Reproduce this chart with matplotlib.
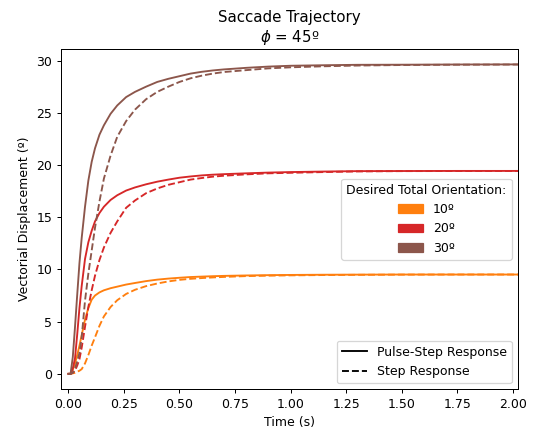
import matplotlib.pyplot as plt
from matplotlib.patches import Patch
from matplotlib.lines import Line2D

# time samples (s)
t = [0.0, 0.01, 0.02, 0.03, 0.04, 0.05, 0.06, 0.075, 0.09, 0.105, 0.12, 0.14, 0.16, 0.19, 0.22,
     0.26, 0.3, 0.35, 0.4, 0.45, 0.5, 0.55, 0.6, 0.65, 0.7, 0.8, 0.9, 1.0, 1.15, 1.3, 1.5, 1.75, 2.05]

# Pulse-step responses
ps_10 = [0, 0, 0.4, 1.0, 1.8, 2.7, 3.7, 5.2, 6.3, 7.1, 7.5, 7.8, 8.0, 8.2, 8.35,
         8.55, 8.7, 8.88, 9.02, 9.12, 9.2, 9.27, 9.31, 9.35, 9.38, 9.42, 9.45, 9.47, 9.49, 9.5, 9.51, 9.51, 9.51]
ps_20 = [0, 0, 0.5, 1.5, 3.8, 6.3, 8.4, 11.0, 12.6, 13.7, 14.6, 15.4, 16.0, 16.65, 17.1,
         17.55, 17.85, 18.15, 18.4, 18.6, 18.78, 18.9, 19.0, 19.07, 19.12, 19.2, 19.27, 19.32, 19.37, 19.41,
         19.42, 19.43, 19.43]
ps_30 = [0, 0, 1.6, 4.5, 7.6, 10.6, 13.0, 16.0, 18.5, 20.3, 21.6, 22.9, 23.8, 24.9, 25.7,
         26.5, 27.0, 27.5, 27.95, 28.25, 28.5, 28.75, 28.92, 29.05, 29.15, 29.3, 29.42, 29.5, 29.55, 29.59,
         29.6, 29.62, 29.63]

# Step responses
st_10 = [0, 0, 0.05, 0.1, 0.2, 0.3, 0.45, 1.0, 1.8, 2.7, 3.5, 4.6, 5.5, 6.4, 7.05,
         7.65, 8.05, 8.4, 8.65, 8.85, 9.0, 9.1, 9.17, 9.23, 9.28, 9.36, 9.4, 9.43, 9.46, 9.48, 9.5, 9.51, 9.51]
st_20 = [0, 0, 0.1, 0.3, 0.8, 1.4, 2.5, 4.5, 6.4, 8.0, 9.4, 10.9, 12.1, 13.5, 14.6,
         15.9, 16.6, 17.3, 17.75, 18.1, 18.35, 18.6, 18.75, 18.88, 18.97, 19.1, 19.2, 19.25, 19.32, 19.38,
         19.41, 19.42, 19.43]
st_30 = [0, 0, 0.1, 0.5, 1.2, 2.0, 3.5, 7.0, 9.6, 11.8, 14.0, 16.5, 18.7, 20.9, 22.7,
         24.2, 25.3, 26.3, 27.0, 27.5, 27.95, 28.3, 28.55, 28.75, 28.9, 29.08, 29.25, 29.35, 29.45, 29.52,
         29.57, 29.6, 29.62]

orientations = ['10º', '20º', '30º']
colors = ['tab:orange', 'tab:red', 'tab:brown']

fig = plt.figure(figsize=(538 / 90, 434 / 90), dpi=90)
ax = fig.add_axes([0.1134, 0.103, 0.849, 0.784])

for ps, st, c in zip([ps_10, ps_20, ps_30], [st_10, st_20, st_30], colors):
    ax.plot(t, ps, color=c, linestyle='-')
    ax.plot(t, st, color=c, linestyle='--')

ax.set_xlim(-0.033, 2.022)
ax.set_ylim(-1.48, 31.1)
ax.set_xticks([0, 0.25, 0.5, 0.75, 1.0, 1.25, 1.5, 1.75, 2.0])
ax.set_title('Saccade Trajectory\n$\\phi$ = 45º')
ax.set_xlabel('Time (s)')
ax.set_ylabel('Vectorial Displacement (º)')

# legend for orientations
patches = [Patch(color=c, label=o) for c, o in zip(colors, orientations)]
leg1 = ax.legend(handles=patches, title='Desired Total Orientation:', loc='center right')
ax.add_artist(leg1)

# legend for line styles
styles = [Line2D([0], [0], color='black', linestyle='-', label='Pulse-Step Response'),
          Line2D([0], [0], color='black', linestyle='--', label='Step Response')]
ax.legend(handles=styles, loc='lower right')

plt.savefig('out.png', dpi=90)
